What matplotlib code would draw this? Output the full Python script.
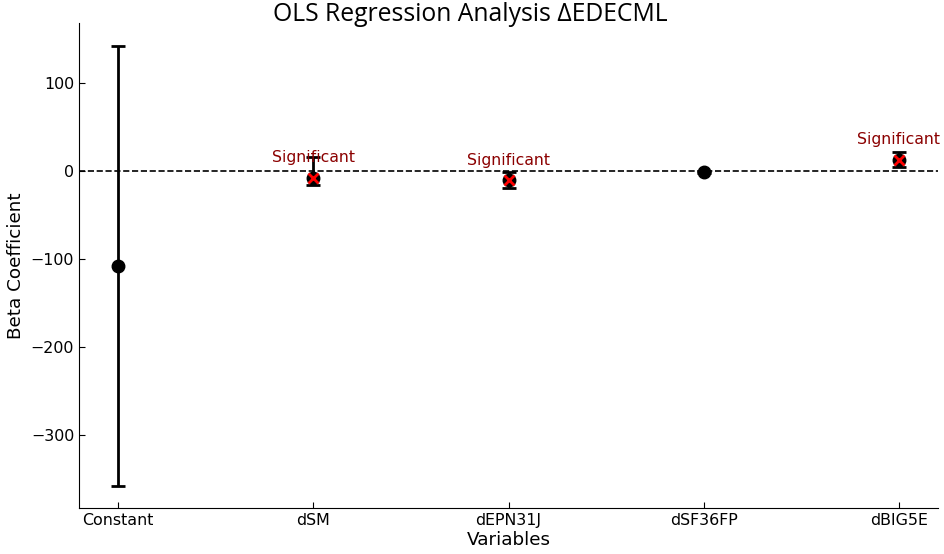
import numpy as np
import matplotlib.pyplot as plt

# OLS coefficients and confidence bounds
variables = ["Constant", "dSM", "dEPN31J", "dSF36FP", "dBIG5E"]
coefs = [-108, -7.5, -10, -1, 13]
ci_low = [-358, -16, -19, -2.5, 5]
ci_high = [142, 16, -1, 0.5, 22]
significant = [False, True, True, False, True]

x = np.arange(len(variables))
coefs = np.array(coefs)
yerr = [coefs - np.array(ci_low), np.array(ci_high) - coefs]

fig = plt.figure(figsize=(9.45, 5.54), dpi=100)
ax = fig.add_axes([0.0836, 0.083, 0.909, 0.875])

ax.errorbar(x, coefs, yerr=yerr, fmt="o", color="black", ms=9,
            elinewidth=2, capsize=5, capthick=2, zorder=3)
ax.axhline(0, color="black", ls="--", lw=1.2, zorder=1)

for xi, c, sig in zip(x, coefs, significant):
    if sig:
        ax.plot(xi, c, "x", color="red", ms=7, mew=2, zorder=4)
        ax.text(xi, c + 22.5, "Significant", color="darkred", fontsize=11.3,
                ha="center", va="center")

ax.set_xticks(x)
ax.set_xticklabels(variables)
ax.set_xlim(-0.2, 4.2)
ax.set_ylim(-383, 168)
ax.set_yticks([-300, -200, -100, 0, 100])
ax.tick_params(direction="in", labelsize=11.4, length=4)
ax.spines["top"].set_visible(False)
ax.spines["right"].set_visible(False)
ax.set_xlabel("Variables", fontsize=13.2, labelpad=2)
ax.set_ylabel("Beta Coefficient", fontsize=13.2)
fig.text(0.498, 0.973, "OLS Regression Analysis ΔEDECML", fontsize=17.8,
         family=["Open Sans", "DejaVu Sans"], ha="center", va="center")

fig.savefig("out.png", dpi=100)
